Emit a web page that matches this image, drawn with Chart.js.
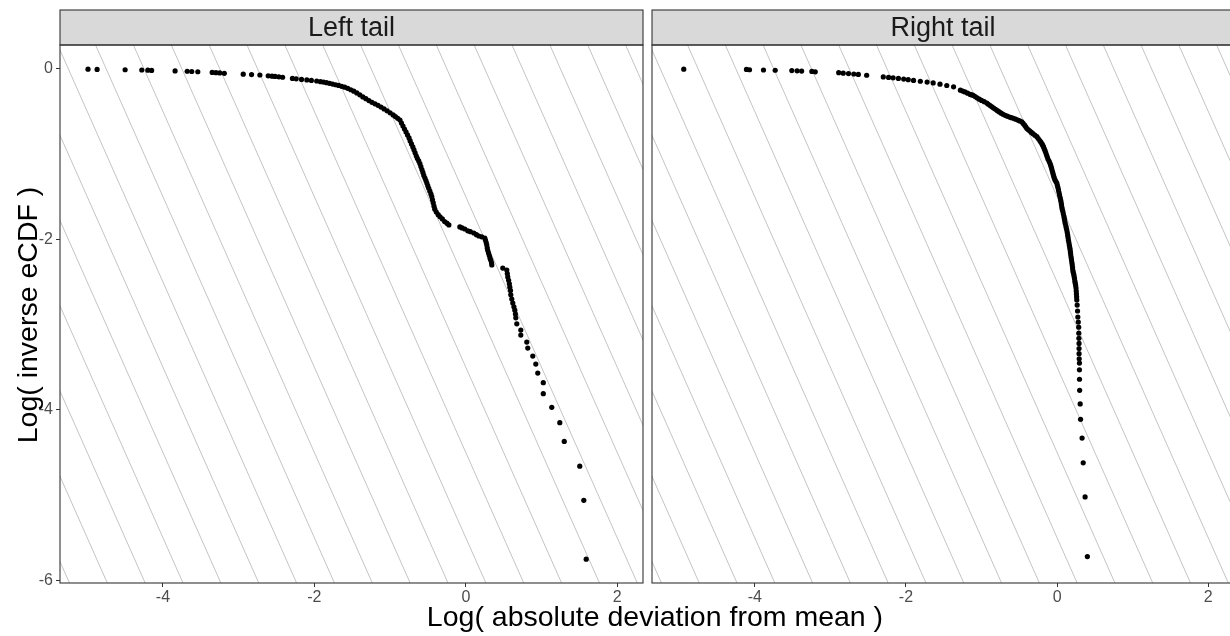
<!DOCTYPE html>
<html>
<head>
<meta charset="utf-8">
<title>Log inverse eCDF by tail</title>
<script src="https://cdn.jsdelivr.net/npm/chart.js@4.4.1/dist/chart.umd.min.js"></script>
<style>
  html, body { margin: 0; padding: 0; background: #fff; overflow: hidden; }
  #wrap { position: relative; width: 1230px; height: 636px; overflow: hidden; font-family: "Liberation Sans", Arial, sans-serif; }
  .panel { position: absolute; top: 0; height: 636px; }
  #leftBox { left: 0; width: 647px; }
  #rightBox { left: 648px; width: 590px; }
  #xTitle { position: absolute; left: 60px; width: 1190px; top: 600px; height: 32px; line-height: 32px;
            text-align: center; font-size: 28.5px; color: #000; white-space: nowrap; }
  #yTitle { position: absolute; left: -173px; top: 299px; width: 400px; height: 32px; line-height: 32px;
            text-align: center; font-size: 28.5px; color: #000; white-space: nowrap; transform: rotate(-90deg); }
</style>
</head>
<body>
<div id="wrap">
  <div class="panel" id="leftBox"><canvas id="leftChart" width="647" height="636"></canvas></div>
  <div class="panel" id="rightBox"><canvas id="rightChart" width="590" height="636"></canvas></div>
  <div id="xTitle">Log( absolute deviation from mean )</div>
  <div id="yTitle">Log( inverse eCDF )</div>
</div>
<script>
// === DATA ===
const panelTitles = ["Left tail", "Right tail"];
const xTicks = [-4, -2, 0, 2];
const yTicks = [-6, -4, -2, 0];
const xRange = [-5.36, 2.34];
const yRange = [-6.03, 0.28];

// background reference lines y = slope * x + c
const guideSlope = -2;
const guideIntercepts = [-16.5, -15.5, -14.5, -13.5, -12.5, -11.5, -10.5, -9.5, -8.5, -7.5, -6.5,
                         -5.5, -4.5, -3.5, -2.5, -1.5, -0.5, 0.5, 1.5, 2.5, 3.5, 4.5];

const leftX = [
  -4.99, -4.87, -4.50, -4.28, -4.20, -4.15, -3.84, -3.68, -3.62, -3.54,
  -3.35, -3.30, -3.25, -3.19, -2.94, -2.83, -2.72, -2.61, -2.56, -2.52,
  -2.47, -2.42, -2.29, -2.24, -2.17, -2.10, -2.04, -1.97, -1.92, -1.88,
  -1.84, -1.80, -1.76, -1.72, -1.68, -1.64, -1.60, -1.56, -1.52, -1.48,
  -1.44, -1.40, -1.36, -1.32, -1.28, -1.24, -1.20, -1.16, -1.12, -1.08,
  -1.04, -1.00, -0.96, -0.93, -0.90, -0.87, -0.85, -0.83, -0.81, -0.79,
  -0.77, -0.75, -0.735, -0.718, -0.70, -0.685, -0.67, -0.655, -0.64, -0.622,
  -0.607, -0.594, -0.58, -0.567, -0.555, -0.54, -0.527, -0.515, -0.503, -0.49,
  -0.475, -0.46, -0.449, -0.44, -0.43, -0.42, -0.41, -0.39, -0.365, -0.34,
  -0.31, -0.28, -0.25, -0.224, -0.079, -0.05, -0.013, 0.026, 0.06, 0.106,
  0.14, 0.172, 0.21, 0.251, 0.26, 0.27, 0.277, 0.283, 0.29, 0.30,
  0.31, 0.32, 0.33, 0.34, 0.343, 0.488, 0.541, 0.548, 0.554, 0.565,
  0.575, 0.581, 0.59, 0.594, 0.607, 0.62, 0.635, 0.647, 0.655, 0.66,
  0.673, 0.726, 0.726, 0.805, 0.818, 0.884, 0.924, 0.95, 1.023, 1.023,
  1.135, 1.241, 1.30, 1.505, 1.558, 1.59
];
const leftY = [
  -0.003, -0.006, -0.010, -0.013, -0.015, -0.018, -0.024, -0.028, -0.031, -0.034,
  -0.042, -0.045, -0.048, -0.052, -0.062, -0.067, -0.072, -0.082, -0.086, -0.089,
  -0.093, -0.098, -0.112, -0.117, -0.124, -0.130, -0.136, -0.142, -0.150, -0.155,
  -0.162, -0.170, -0.178, -0.186, -0.194, -0.205, -0.215, -0.228, -0.245, -0.262,
  -0.282, -0.304, -0.329, -0.350, -0.372, -0.392, -0.410, -0.428, -0.448, -0.470,
  -0.492, -0.515, -0.540, -0.560, -0.580, -0.600, -0.635, -0.670, -0.705, -0.740,
  -0.775, -0.810, -0.845, -0.880, -0.915, -0.950, -0.985, -1.020, -1.050, -1.080,
  -1.110, -1.145, -1.180, -1.215, -1.250, -1.280, -1.310, -1.340, -1.370, -1.400,
  -1.435, -1.470, -1.500, -1.535, -1.570, -1.610, -1.645, -1.680, -1.710, -1.735,
  -1.760, -1.790, -1.810, -1.830, -1.854, -1.866, -1.878, -1.900, -1.910, -1.925,
  -1.945, -1.960, -1.970, -1.984, -2.010, -2.040, -2.066, -2.100, -2.130, -2.160,
  -2.190, -2.220, -2.245, -2.275, -2.300, -2.336, -2.359, -2.400, -2.440, -2.480,
  -2.520, -2.560, -2.600, -2.650, -2.700, -2.746, -2.790, -2.830, -2.876, -2.920,
  -2.990, -3.063, -3.122, -3.204, -3.275, -3.369, -3.462, -3.568, -3.680, -3.810,
  -3.970, -4.150, -4.370, -4.660, -5.060, -5.750
];

const rightX = [
  // sparse upper run
  -4.94, -4.11, -4.07, -3.885, -3.73, -3.51, -3.44, -3.38, -3.245, -3.20,
  -2.89, -2.83, -2.76, -2.69, -2.63, -2.52, -2.30, -2.23, -2.17, -2.10,
  -2.03, -1.97, -1.90, -1.81, -1.72, -1.64, -1.55, -1.46, -1.37,
  // bend
  -1.28, -1.25, -1.22, -1.185, -1.15, -1.13, -1.11, -1.085, -1.06, -1.03,
  -1.00, -0.965, -0.93, -0.91, -0.886, -0.863, -0.84, -0.815, -0.79, -0.765,
  -0.74, -0.715, -0.688, -0.66, -0.63, -0.605, -0.578, -0.55,
  -0.52, -0.495, -0.467, -0.45, -0.43, -0.415, -0.40, -0.38, -0.36, -0.34,
  -0.32, -0.295, -0.268, -0.25, -0.23, -0.215, -0.20, -0.19, -0.18, -0.17,
  -0.16, -0.15, -0.14, -0.13,
  // steep drop
  -0.12, -0.105, -0.093, -0.084, -0.075, -0.068, -0.06, -0.052, -0.045, -0.038,
  -0.03, -0.017, -0.004, 0.003, 0.01, 0.018, 0.025, 0.032, 0.04, 0.046,
  0.052, 0.057, 0.062, 0.068, 0.075, 0.082, 0.09, 0.095, 0.10, 0.107,
  0.115, 0.121, 0.128, 0.134, 0.14, 0.145, 0.15, 0.156, 0.162, 0.167,
  0.172, 0.176, 0.18, 0.185, 0.19, 0.195, 0.20, 0.204, 0.207, 0.213,
  0.22, 0.225, 0.23, 0.235, 0.24, 0.245, 0.25, 0.253, 0.255, 0.258,
  0.26,
  // lowest ranks
  0.265, 0.27, 0.274, 0.28, 0.285, 0.287, 0.288, 0.29, 0.29, 0.29,
  0.292, 0.295, 0.295, 0.296, 0.298, 0.305, 0.31, 0.33, 0.345, 0.37,
  0.40
];
const rightY = [
  -0.003, -0.007, -0.010, -0.013, -0.016, -0.020, -0.023, -0.026, -0.030, -0.035,
  -0.045, -0.050, -0.055, -0.060, -0.065, -0.075, -0.095, -0.100, -0.105, -0.112,
  -0.120, -0.127, -0.135, -0.145, -0.155, -0.165, -0.180, -0.195, -0.210,
  -0.250, -0.260, -0.270, -0.285, -0.300, -0.305, -0.310, -0.325, -0.340, -0.355,
  -0.370, -0.385, -0.400, -0.415, -0.430, -0.445, -0.460, -0.475, -0.490, -0.505,
  -0.520, -0.533, -0.545, -0.555, -0.565, -0.572, -0.580, -0.590,
  -0.600, -0.610, -0.620, -0.640, -0.660, -0.680, -0.700, -0.715, -0.730, -0.745,
  -0.760, -0.778, -0.795, -0.818, -0.840, -0.860, -0.880, -0.898, -0.915, -0.938,
  -0.960, -0.985, -1.010, -1.035,
  -1.060, -1.085, -1.110, -1.135, -1.160, -1.185, -1.210, -1.235, -1.260, -1.280,
  -1.300, -1.320, -1.340, -1.365, -1.390, -1.420, -1.450, -1.480, -1.510, -1.535,
  -1.560, -1.590, -1.620, -1.645, -1.670, -1.700, -1.730, -1.755, -1.780, -1.810,
  -1.840, -1.865, -1.890, -1.920, -1.950, -1.980, -2.010, -2.040, -2.070, -2.095,
  -2.120, -2.150, -2.180, -2.210, -2.240, -2.270, -2.300, -2.330, -2.360, -2.385,
  -2.410, -2.435, -2.460, -2.490, -2.515, -2.540, -2.570, -2.605, -2.640, -2.675,
  -2.710,
  -2.770, -2.840, -2.910, -2.970, -3.030, -3.100, -3.160, -3.220, -3.280, -3.340,
  -3.400, -3.450, -3.530, -3.640, -3.770, -3.930, -4.110, -4.330, -4.620, -5.020,
  -5.720
];

// === STYLE ===
const FONT = '"Liberation Sans", Arial, sans-serif';
const FRAME = '#333333';

// facet strip on top and panel border round the plot area
const panelFrame = {
  id: 'panelFrame',
  afterDraw(chart, args, opts) {
    const { ctx, chartArea } = chart;
    const stripTop = 10;
    ctx.save();
    ctx.fillStyle = '#D9D9D9';
    ctx.fillRect(chartArea.left, stripTop, chartArea.width, chartArea.top - stripTop);
    ctx.strokeStyle = FRAME;
    ctx.lineWidth = 1.1;
    ctx.strokeRect(chartArea.left, stripTop, chartArea.width, chartArea.top - stripTop);
    ctx.strokeRect(chartArea.left, chartArea.top, chartArea.width, chartArea.height);
    ctx.fillStyle = '#1A1A1A';
    ctx.font = '27px ' + FONT;
    ctx.textAlign = 'center';
    ctx.textBaseline = 'middle';
    ctx.fillText(opts.text, (chartArea.left + chartArea.right) / 2, (stripTop + chartArea.top) / 2 + 1);
    ctx.restore();
  }
};

function makePanel(canvasId, stripText, xs, ys, withYAxis, padding) {
  const points = xs.map((x, i) => ({ x: x, y: ys[i] }));
  const guides = guideIntercepts.map(c => ({
    data: [{ x: -9, y: guideSlope * -9 + c }, { x: 5, y: guideSlope * 5 + c }],
    showLine: true,
    pointRadius: 0,
    borderColor: '#C4C4C4',
    borderWidth: 1,
    clip: 0,
    order: 1
  }));

  const tickGrid = { display: true, drawOnChartArea: false, drawTicks: true, tickLength: 4, color: FRAME, lineWidth: 1 };
  const tickFont = { family: FONT, size: 16 };

  return new Chart(document.getElementById(canvasId), {
    type: 'scatter',
    data: {
      datasets: [{
        data: points,
        pointRadius: 2.6,
        pointBorderWidth: 0,
        pointBackgroundColor: '#000',
        order: 0
      }].concat(guides)
    },
    options: {
      responsive: false,
      animation: false,
      events: [],
      layout: { padding: padding },
      plugins: {
        legend: { display: false },
        tooltip: { enabled: false },
        panelFrame: { text: stripText }
      },
      scales: {
        x: {
          type: 'linear',
          min: xRange[0],
          max: xRange[1],
          afterBuildTicks: s => { s.ticks = xTicks.map(v => ({ value: v })); },
          afterFit: s => { s.height = 53; },
          grid: tickGrid,
          border: { display: false },
          ticks: { font: tickFont, color: '#4D4D4D', padding: 1, callback: v => String(v) }
        },
        y: {
          type: 'linear',
          display: withYAxis,
          min: yRange[0],
          max: yRange[1],
          afterBuildTicks: s => { s.ticks = yTicks.map(v => ({ value: v })); },
          afterFit: s => { s.width = withYAxis ? 60 : 0; },
          grid: tickGrid,
          border: { display: false },
          ticks: { font: tickFont, color: '#4D4D4D', padding: 3, callback: v => String(v) }
        }
      }
    },
    plugins: [panelFrame]
  });
}

makePanel('leftChart', panelTitles[0], leftX, leftY, true, { top: 45, right: 3, left: 0, bottom: 0 });
// this panel runs a few pixels past the right edge of the page
makePanel('rightChart', panelTitles[1], rightX, rightY, false, { top: 45, right: 0.5, left: 3.5, bottom: 0 });
</script>
</body>
</html>
